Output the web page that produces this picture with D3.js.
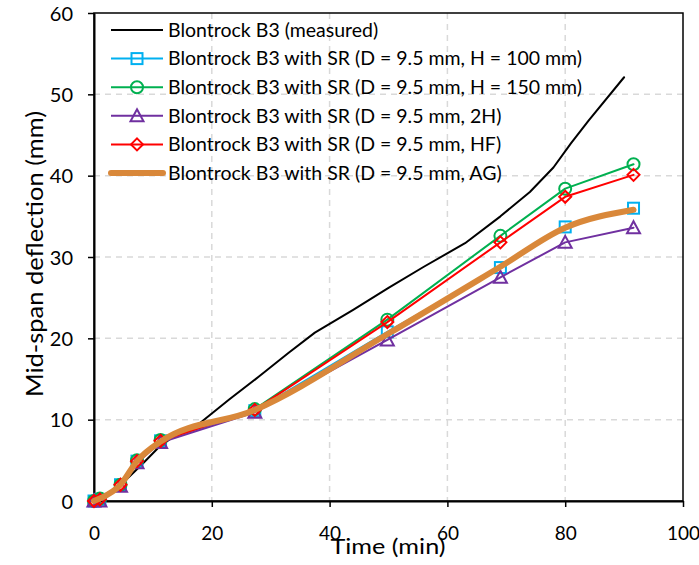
<!DOCTYPE html>
<html><head><meta charset="utf-8">
<script src="https://cdn.jsdelivr.net/npm/d3@7"></script>
<style>body{margin:0;background:#fff}svg{display:block}</style>
</head><body><svg id="c" width="699" height="565"></svg>
<script>
const measuredT = [0,2,5,8,11,14,18,23,28,33,37.5,44,50,56,63,69,74,78,81,84,90];
const measuredD = [0,0.8,2.3,4.4,6.6,8.2,9.6,12.5,15.3,18.2,20.7,23.5,26.2,28.8,31.7,35.0,38.0,41.0,44.0,46.8,52.1];
const simT = [0,1,4.5,7.3,11.3,27.3,49.8,69,80,91.6];
const h100 = [0,0.2,2.0,4.9,7.4,11.1,20.8,28.7,33.7,36.0];
const h150 = [0,0.3,2.0,5.0,7.5,11.3,22.3,32.6,38.4,41.4];
const twoH = [0,0.0,1.8,4.7,7.2,10.9,19.8,27.5,31.8,33.6];
const hf = [0,0.2,2.0,4.9,7.4,11.2,22.0,31.8,37.4,40.1];
const ag = [0,0.3,2.0,4.9,7.3,11.2,20.5,28.8,33.6,35.8];
const xTicks = [0,20,40,60,80,100];
const yTicks = [0,10,20,30,40,50,60];
const names = ["Blontrock B3 (measured)","Blontrock B3 with SR (D = 9.5 mm, H = 100 mm)","Blontrock B3 with SR (D = 9.5 mm, H = 150 mm)","Blontrock B3 with SR (D = 9.5 mm, 2H)","Blontrock B3 with SR (D = 9.5 mm, HF)","Blontrock B3 with SR (D = 9.5 mm, AG)"];

const series = [
  {name:names[0], t:measuredT, d:measuredD, color:"#000000", w:2, marker:null},
  {name:names[1], t:simT, d:h100, color:"#00B0F0", w:2, marker:"square"},
  {name:names[2], t:simT, d:h150, color:"#00B050", w:2, marker:"circle"},
  {name:names[3], t:simT, d:twoH, color:"#7030A0", w:2, marker:"triangle"},
  {name:names[4], t:simT, d:hf, color:"#FF0000", w:2, marker:"diamond"},
  {name:names[5], t:simT, d:ag, color:"#D9883A", w:6, marker:null, smooth:true}
];

const svg = d3.select("#c");
const font = "Lato, 'Open Sans', sans-serif";
const L=94, R=683, T=13, B=501;
const x = d3.scaleLinear().domain([0,100]).range([L,R]);
const y = d3.scaleLinear().domain([0,60]).range([B,T]);

// grid
const g = svg.append("g");
g.selectAll(".gx").data(xTicks.filter(v=>v>0&&v<100)).enter().append("line")
  .attr("x1",d=>x(d)).attr("x2",d=>x(d)).attr("y1",T).attr("y2",B)
  .attr("stroke","#d9d9d9").attr("stroke-width",1.5).attr("stroke-dasharray","6,5");
g.selectAll(".gy").data(yTicks.filter(v=>v>0&&v<60)).enter().append("line")
  .attr("x1",L).attr("x2",R).attr("y1",d=>y(d)).attr("y2",d=>y(d))
  .attr("stroke","#d9d9d9").attr("stroke-width",1.5).attr("stroke-dasharray","6,5");

// frame
svg.append("rect").attr("x",L).attr("y",T).attr("width",R-L).attr("height",B-T)
  .attr("fill","none").attr("stroke","#000").attr("stroke-width",1.5);

// axes
const xa = svg.append("g").attr("transform",`translate(0,${B})`)
  .call(d3.axisBottom(x).tickValues(xTicks).tickSize(6).tickSizeOuter(0));
const ya = svg.append("g").attr("transform",`translate(${L},0)`)
  .call(d3.axisLeft(y).tickValues(yTicks).tickSize(6).tickSizeOuter(0));
[xa,ya].forEach(a=>{
  a.select(".domain").attr("stroke","#000").attr("stroke-width",2);
  a.selectAll(".tick line").attr("stroke","#000").attr("stroke-width",1.5);
  a.selectAll("text").attr("font-family",font).attr("font-size",20).attr("fill","#000");
});
xa.selectAll("text").attr("dy","0").attr("y",39).attr("font-size",19);
ya.selectAll("text").attr("x",-21).attr("dy","0.35em");

svg.append("text").attr("x",388).attr("y",554).attr("text-anchor","middle")
  .attr("font-family",font).attr("font-size",21).attr("textLength",115).attr("lengthAdjust","spacingAndGlyphs").text("Time (min)");
svg.append("text").attr("transform",`translate(43,254) rotate(-90)`).attr("text-anchor","middle")
  .attr("font-family",font).attr("font-size",24).attr("textLength",286).attr("lengthAdjust","spacingAndGlyphs").text("Mid-span deflection (mm)");

// lines
function drawMarker(sel, type, color){
  if(type==="square") sel.append("rect").attr("x",-5.5).attr("y",-5.5).attr("width",11).attr("height",11);
  else if(type==="circle") sel.append("circle").attr("r",6);
  else if(type==="triangle") sel.append("path").attr("d","M0,-6.5L6.5,5.5L-6.5,5.5Z");
  else if(type==="diamond") sel.append("path").attr("d","M0,-6L6,0L0,6L-6,0Z");
  sel.selectAll("*").attr("fill","none").attr("stroke",color).attr("stroke-width",2);
}
series.forEach(s=>{
  const pts = s.t.map((t,i)=>[t,s.d[i]]);
  const line = d3.line().x(d=>x(d[0])).y(d=>y(d[1])).curve(s.smooth?d3.curveMonotoneX:d3.curveLinear);
  svg.append("path").datum(pts).attr("d",line).attr("fill","none")
    .attr("stroke",s.color).attr("stroke-width",s.w).attr("stroke-linejoin","round").attr("stroke-linecap","round");
  if(s.marker){
    pts.forEach(p=>{
      const m = svg.append("g").attr("transform",`translate(${x(p[0])},${y(p[1])})`);
      drawMarker(m, s.marker, s.color);
    });
  }
});

// legend
const lg = svg.append("g");
series.forEach((s,i)=>{
  const yy = 30 + i*28.6;
  lg.append("line").attr("x1",111).attr("x2",163).attr("y1",yy).attr("y2",yy)
    .attr("stroke",s.color).attr("stroke-width",s.w).attr("stroke-linecap",s.w>3?"round":"butt");
  if(s.marker){
    const m = lg.append("g").attr("transform",`translate(137,${yy})`);
    drawMarker(m, s.marker, s.color);
  }
  lg.append("text").attr("x",168).attr("y",yy).attr("dy","0.35em")
    .attr("font-family",font).attr("font-size",19.5).text(s.name);
});
</script></body></html>
